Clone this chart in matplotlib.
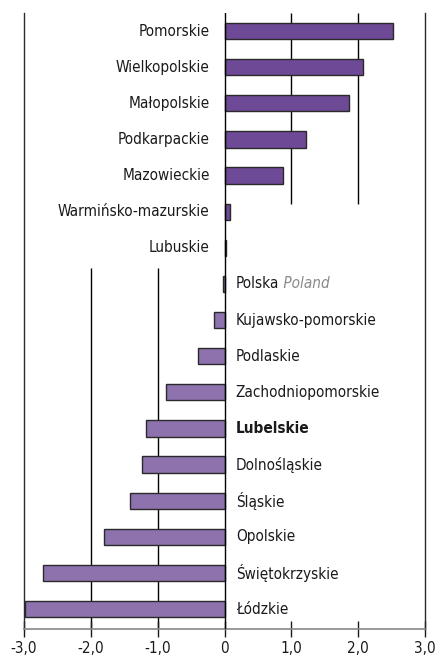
import matplotlib
matplotlib.use("Agg")
import matplotlib.pyplot as plt
from matplotlib import font_manager as fm
import numpy as np

# pick a condensed face if one is installed
narrow = None
stretch = "normal"
for f in fm.fontManager.ttflist:
    st = str(f.stretch).lower()
    if "narrow" in f.name.lower() or "condensed" in f.name.lower():
        narrow = f.name
        break
    if st in ("condensed", "semi-condensed", "extra-condensed") or (
            st.isdigit() and int(st) < 500):
        narrow = f.name
        stretch = f.stretch
        break
if narrow is None:
    narrow = "Roboto"
plt.rcParams['font.family'] = [narrow, 'DejaVu Sans']
plt.rcParams['font.stretch'] = stretch

# regions, top to bottom
regions = ["Pomorskie", "Wielkopolskie", "Małopolskie", "Podkarpackie",
           "Mazowieckie", "Warmińsko-mazurskie", "Lubuskie", "Polska",
           "Kujawsko-pomorskie", "Podlaskie", "Zachodniopomorskie",
           "Lubelskie", "Dolnośląskie", "Śląskie", "Opolskie",
           "Świętokrzyskie", "Łódzkie"]
values = [2.52, 2.07, 1.87, 1.22, 0.87, 0.08, 0.02, -0.02,
          -0.16, -0.39, -0.88, -1.18, -1.24, -1.41, -1.80, -2.72, -2.98]
xticks = [-3, -2, -1, 0, 1, 2, 3]
xtick_labels = ["-3,0", "-2,0", "-1,0", "0", "1,0", "2,0", "3,0"]

POS_COLOR = "#6e4996"
NEG_COLOR = "#8d72ae"
FS = 11

fig = plt.figure(figsize=(4.38, 6.58), dpi=100)
ax = fig.add_axes([24 / 438, 1 - 629 / 658, 401 / 438, 616 / 658])

y = np.arange(len(regions))
colors = [POS_COLOR if v > 0 else NEG_COLOR for v in values]
ax.barh(y, values, height=0.45, color=colors, edgecolor="#2a2a2a",
        linewidth=1.0, zorder=3)

ax.set_xlim(-3, 3)
ax.set_ylim(len(regions) - 0.45, -0.5)

# partial grid lines
ipos_end = regions.index("Warmińsko-mazurskie") - 0.2
ineg_start = regions.index("Polska") - 0.45
for gx in [1, 2]:
    ax.vlines(gx, -0.5, ipos_end, color="black", linewidth=1.0, zorder=1)
for gx in [-1, -2]:
    ax.vlines(gx, ineg_start, len(regions) - 0.45, color="black",
              linewidth=1.0, zorder=1)
ax.axvline(0, color="black", linewidth=1.0, zorder=4)

# labels
for yi, name, v in zip(y, regions, values):
    weight = "bold" if name == "Lubelskie" else "normal"
    if v > 0:
        ax.text(-0.22, yi, name, ha="right", va="center", fontsize=FS,
                color="#1a1a1a", fontweight=weight)
    else:
        t = ax.text(0.17, yi, name, ha="left", va="center", fontsize=FS,
                    color="#1a1a1a", fontweight=weight)
        if name == "Polska":
            ax.annotate(" Poland", xycoords=t, xy=(1, 0.5), ha="left",
                        va="center", fontsize=FS, color="#8a8a8a",
                        style="italic")

ax.set_xticks(xticks)
ax.set_xticklabels(xtick_labels, fontsize=FS, color="#1a1a1a")
ax.set_yticks([])
ax.tick_params(axis="x", direction="inout", length=11, width=1.0,
               color="#1a1a1a", pad=3)

for side in ["left", "right"]:
    ax.spines[side].set_color("#2a2a2a")
    ax.spines[side].set_linewidth(1.0)
ax.spines["top"].set_visible(False)
ax.spines["bottom"].set_color("#888888")
ax.spines["bottom"].set_linewidth(1.2)

fig.savefig("out.png", dpi=100)
